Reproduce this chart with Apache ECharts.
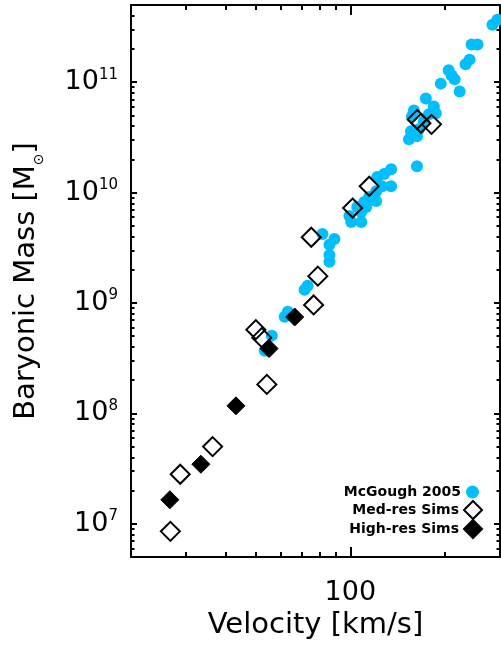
<!DOCTYPE html>
<html>
<head>
<meta charset="utf-8">
<script src="https://cdn.jsdelivr.net/npm/echarts@6/dist/echarts.min.js"></script>
<style>
  html, body { margin: 0; padding: 0; background: #fff; }
  #chart { width: 501px; height: 646px; }
</style>
</head>
<body>
<div id="chart"></div>
<script>
// McGough (2005) baryonic Tully-Fisher galaxies: rotation velocity [km/s] and baryonic mass [Msun]
const mcgoughVelocity = [
  283.9, 294.4, 243.6, 254.4, 240.0, 233.1, 205.9, 210.5, 215.1, 194.2,
  223.1, 174.1, 184.6, 187.3, 159.5, 157.2, 165.4, 163.1, 156.1, 153.8,
  171.6, 178.0, 163.1,
  134.9, 128.2, 121.8, 134.9, 126.3, 120.9, 120.9, 114.9, 110.8, 112.4,
  108.4, 108.4, 100.7, 99.3, 105.2, 89.0, 85.8, 81.5, 85.8, 85.8,
  73.1, 71.5, 63.2, 61.8, 56.2, 53.4
];
const mcgoughMass = [
  3.32e11, 3.68e11, 2.19e11, 2.19e11, 1.60e11, 1.45e11, 1.28e11, 1.15e11, 1.06e11, 9.7e10,
  8.24e10, 7.13e10, 6.03e10, 5.22e10, 5.55e10, 4.90e10, 3.74e10, 3.24e10, 3.59e10, 3.04e10,
  4.42e10, 5.11e10, 1.73e10,
  1.63e10, 1.47e10, 1.38e10, 1.14e10, 1.14e10, 1.03e10, 8.37e9, 9.10e9, 8.20e9, 7.39e9,
  6.66e9, 5.41e9, 5.41e9, 6.13e9, 7.39e9, 3.80e9, 3.36e9, 4.22e9, 2.72e9, 2.36e9,
  1.43e9, 1.32e9, 8.32e8, 7.51e8, 5.06e8, 3.70e8
];

// Medium-resolution simulated galaxies
const medResVelocity = [26.7, 28.7, 36.4, 50.0, 52.2, 54.2, 75.1, 78.8, 76.4, 101.7, 114.9, 163.4, 167.9, 181.5];
const medResMass = [8.54e6, 2.81e7, 5.0e7, 5.73e8, 4.85e8, 1.83e8, 3.94e9, 1.75e9, 9.6e8, 7.24e9, 1.14e10, 4.6e10, 4.24e10, 4.15e10];

// High-resolution simulated galaxies
const highResVelocity = [26.6, 33.4, 43.2, 55.1, 66.5];
const highResMass = [1.65e7, 3.46e7, 1.17e8, 3.86e8, 7.46e8];

const seriesNames = ['McGough 2005', 'Med-res Sims', 'High-res Sims'];

// Axis ranges and ticks
const xRange = [20, 300];
const yRange = [5e6, 5e11];
const xMajorTicks = [100];
const xMajorLabels = ['100'];
const xMinorTicks = [30, 40, 50, 60, 70, 80, 90, 200];
const yMajorTicks = [1e7, 1e8, 1e9, 1e10, 1e11];
const yMajorExponents = ['7', '8', '9', '10', '11'];
const yMinorTicks = [
  6e6, 7e6, 8e6, 9e6,
  2e7, 3e7, 4e7, 5e7, 6e7, 7e7, 8e7, 9e7,
  2e8, 3e8, 4e8, 5e8, 6e8, 7e8, 8e8, 9e8,
  2e9, 3e9, 4e9, 5e9, 6e9, 7e9, 8e9, 9e9,
  2e10, 3e10, 4e10, 5e10, 6e10, 7e10, 8e10, 9e10,
  2e11, 3e11, 4e11
];

const FONT = 'DejaVu Sans';
const BLACK = '#000';
const BLUE = '#00bfff';

function pairs(xs, ys) {
  return xs.map((x, i) => [x, ys[i]]);
}

function nearestIndex(list, v) {
  let best = 0, bestD = Infinity;
  list.forEach((t, i) => {
    const d = Math.abs(Math.log10(t) - Math.log10(v));
    if (d < bestD) { bestD = d; best = i; }
  });
  return best;
}

function axisBase(range, position, ticks, tickLen, drawLine) {
  return {
    type: 'log',
    logBase: 10,
    min: range[0],
    max: range[1],
    position: position,
    axisLine: { show: drawLine, onZero: false, lineStyle: { color: BLACK, width: 2 } },
    axisTick: {
      show: true, inside: true, length: tickLen, customValues: ticks,
      lineStyle: { color: BLACK, width: 2 }
    },
    axisLabel: { show: false },
    splitLine: { show: false },
    minorTick: { show: false },
    minorSplitLine: { show: false }
  };
}

// bottom axis with labels and title
const xBottom = axisBase(xRange, 'bottom', xMajorTicks, 10, true);
xBottom.axisLabel = {
  show: true,
  customValues: xMajorTicks,
  margin: 22,
  color: BLACK,
  fontFamily: FONT,
  fontSize: 27,
  lineHeight: 27,
  formatter: (v) => xMajorLabels[nearestIndex(xMajorTicks, v)]
};
xBottom.name = 'Velocity [km/s]';
xBottom.nameLocation = 'middle';
xBottom.nameGap = 54;
xBottom.nameTextStyle = { color: BLACK, fontFamily: FONT, fontSize: 29, lineHeight: 29 };

// left axis with labels and title
const yLeft = axisBase(yRange, 'left', yMajorTicks, 6, true);
yLeft.axisLabel = {
  show: true,
  customValues: yMajorTicks,
  margin: 13,
  color: BLACK,
  fontFamily: FONT,
  formatter: (v) => '{b|10}{e|' + yMajorExponents[nearestIndex(yMajorTicks, v)] + '}',
  rich: {
    b: { fontFamily: FONT, fontSize: 27, lineHeight: 30, color: BLACK },
    e: { fontFamily: FONT, fontSize: 15, lineHeight: 10, verticalAlign: 'top', color: BLACK }
  }
};
yLeft.name = '{t|Baryonic Mass [M}{s|⊙}{t|]}';
yLeft.nameLocation = 'middle';
yLeft.nameRotate = 90;
yLeft.nameGap = 85;
yLeft.nameTextStyle = {
  color: BLACK,
  fontFamily: FONT,
  rich: {
    t: { fontFamily: FONT, fontSize: 29, lineHeight: 40, color: BLACK },
    s: { fontFamily: FONT, fontSize: 14, lineHeight: 8, verticalAlign: 'bottom', color: BLACK }
  }
};

const legendText = { fontFamily: FONT, fontWeight: 'bold', fontSize: 14, lineHeight: 14, color: BLACK };

const option = {
  animation: false,
  backgroundColor: '#fff',
  textStyle: { fontFamily: FONT },
  grid: { left: 131, right: 1, top: 5, bottom: 89, containLabel: false },
  xAxis: [
    xBottom,
    axisBase(xRange, 'bottom', xMinorTicks, 5, false),
    axisBase(xRange, 'top', xMajorTicks, 10, true),
    axisBase(xRange, 'top', xMinorTicks, 5, false)
  ],
  yAxis: [
    yLeft,
    axisBase(yRange, 'left', yMinorTicks, 3.5, false),
    axisBase(yRange, 'right', yMajorTicks, 6, true),
    axisBase(yRange, 'right', yMinorTicks, 3.5, false)
  ],
  legend: [
    {
      data: [seriesNames[0]],
      orient: 'vertical',
      align: 'right',
      right: 22,
      top: 485,
      padding: 0,
      itemWidth: 13,
      itemHeight: 13,
      selectedMode: false,
      textStyle: legendText
    },
    {
      data: [seriesNames[1], seriesNames[2]],
      orient: 'vertical',
      align: 'right',
      right: 18,
      top: 500,
      padding: 0,
      itemGap: -1,
      itemWidth: 18,
      itemHeight: 18,
      selectedMode: false,
      textStyle: legendText
    }
  ],
  series: [
    {
      name: seriesNames[0],
      type: 'scatter',
      xAxisIndex: 0, yAxisIndex: 0,
      symbol: 'circle',
      symbolSize: 12,
      itemStyle: { color: BLUE, opacity: 1 },
      data: pairs(mcgoughVelocity, mcgoughMass),
      z: 2
    },
    {
      name: seriesNames[1],
      type: 'scatter',
      xAxisIndex: 0, yAxisIndex: 0,
      symbol: 'diamond',
      symbolSize: 19,
      itemStyle: { color: 'rgba(0,0,0,0)', borderColor: BLACK, borderWidth: 2, opacity: 1 },
      data: pairs(medResVelocity, medResMass),
      z: 3
    },
    {
      name: seriesNames[2],
      type: 'scatter',
      xAxisIndex: 0, yAxisIndex: 0,
      symbol: 'diamond',
      symbolSize: 18,
      itemStyle: { color: BLACK, borderColor: BLACK, borderWidth: 1, opacity: 1 },
      data: pairs(highResVelocity, highResMass),
      z: 4
    }
  ]
};

const chart = echarts.init(document.getElementById('chart'), null, { renderer: 'canvas' });
chart.setOption(option);
</script>
</body>
</html>
